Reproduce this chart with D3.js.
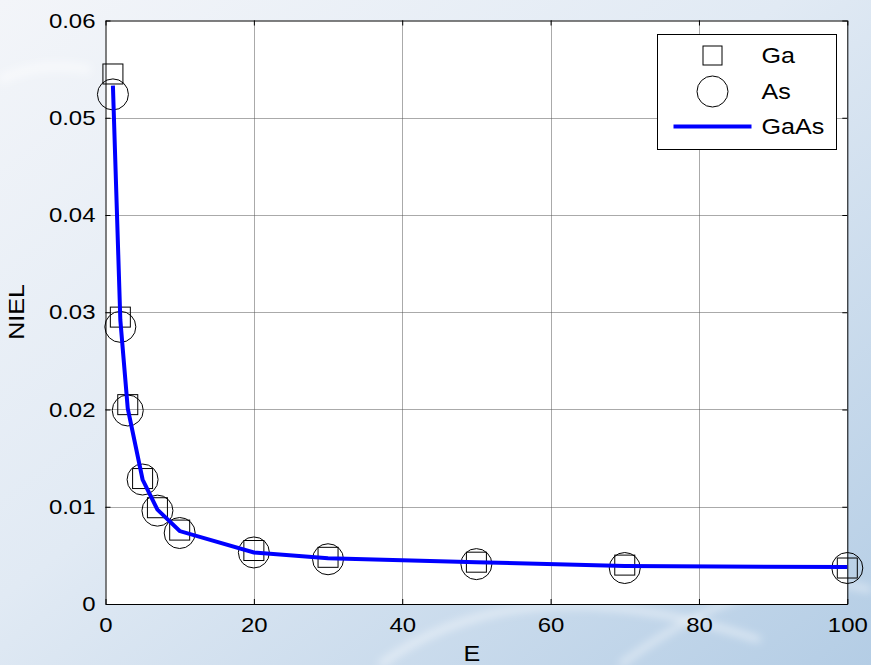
<!DOCTYPE html>
<html>
<head>
<meta charset="utf-8">
<title>NIEL GaAs</title>
<style>
  html, body { margin: 0; padding: 0; }
  text { font-family: "Liberation Sans", Arial, sans-serif; }
</style>
</head>
<body>
<script src="https://d3js.org/d3.v7.min.js"></script>
<script>
// data
var energy = [1, 2, 3, 5, 7, 10, 20, 30, 50, 70, 100];
var gaNiel = [0.0545, 0.0295, 0.0205, 0.0129, 0.0099, 0.0076, 0.0055, 0.0048, 0.0043, 0.0040, 0.0037];
var asNiel = [0.0524, 0.0285, 0.0199, 0.0128, 0.0096, 0.0073, 0.0053, 0.0046, 0.0041, 0.0037, 0.0037];
var gaasNiel = [0.0533, 0.0292, 0.0201, 0.0128, 0.0097, 0.0075, 0.0053, 0.0047, 0.0043, 0.0039, 0.0038];
var xTicks = [0, 20, 40, 60, 80, 100];
var yTicks = [0, 0.01, 0.02, 0.03, 0.04, 0.05, 0.06];
var legendLabels = ["Ga", "As", "GaAs"];

var W = 871, H = 665;
var plotL = 105.5, plotR = 847.3, plotT = 20.5, plotB = 604;

var svg = d3.select("body").append("svg")
    .attr("width", W)
    .attr("height", H);

// slide-like background
var defs = svg.append("defs");
var bg = defs.append("linearGradient").attr("id", "bg")
    .attr("x1", 0).attr("y1", 0).attr("x2", 1).attr("y2", 1);
bg.append("stop").attr("offset", "0%").attr("stop-color", "#f3f5f9");
bg.append("stop").attr("offset", "45%").attr("stop-color", "#e1eaf4");
bg.append("stop").attr("offset", "100%").attr("stop-color", "#b4cde5");
defs.append("filter").attr("id", "blur").append("feGaussianBlur").attr("stdDeviation", 4);

svg.append("rect").attr("width", W).attr("height", H).attr("fill", "url(#bg)");
var streaks = svg.append("g").attr("filter", "url(#blur)")
    .attr("fill", "none").attr("stroke", "#fff").attr("stroke-opacity", 0.55);
streaks.append("path").attr("d", "M380,665 Q520,560 760,640").attr("stroke-width", 6);
streaks.append("path").attr("d", "M620,665 Q760,560 871,590").attr("stroke-width", 5);
streaks.append("path").attr("d", "M0,80 Q40,60 90,70").attr("stroke-width", 8);

var x = d3.scaleLinear().domain([0, 100]).range([plotL, plotR]);
var y = d3.scaleLinear().domain([0, 0.06]).range([plotB, plotT]);

// plot area
svg.append("rect")
    .attr("x", plotL).attr("y", plotT)
    .attr("width", plotR - plotL).attr("height", plotB - plotT)
    .attr("fill", "#fff");

// grid, dotted
var grid = svg.append("g")
    .attr("stroke", "#555")
    .attr("stroke-width", 1)
    .attr("stroke-dasharray", "1,1");
grid.selectAll(".gx").data(xTicks.slice(1, -1)).enter().append("line")
    .attr("x1", function(d){ return Math.round(x(d)) + 0.5; })
    .attr("x2", function(d){ return Math.round(x(d)) + 0.5; })
    .attr("y1", plotT).attr("y2", plotB);
grid.selectAll(".gy").data(yTicks.slice(1, -1)).enter().append("line")
    .attr("y1", function(d){ return Math.round(y(d)) + 0.5; })
    .attr("y2", function(d){ return Math.round(y(d)) + 0.5; })
    .attr("x1", plotL).attr("x2", plotR);

// axes, MATLAB style ticks pointing inward
var fmtY = function(d){ return d === 0 ? "0" : d3.format(".2f")(d); };

svg.append("g").attr("class", "ax")
    .attr("transform", "translate(0," + plotB + ")")
    .call(d3.axisBottom(x).tickValues(xTicks).tickSizeInner(-5).tickSizeOuter(0).tickPadding(13));
svg.append("g").attr("class", "ax")
    .attr("transform", "translate(" + plotL + ",0)")
    .call(d3.axisLeft(y).tickValues(yTicks).tickFormat(fmtY).tickSizeInner(-5).tickSizeOuter(0).tickPadding(10));
svg.append("g").attr("class", "ax")
    .attr("transform", "translate(0," + plotT + ")")
    .call(d3.axisTop(x).tickValues(xTicks).tickFormat("").tickSizeInner(-5).tickSizeOuter(0));
svg.append("g").attr("class", "ax")
    .attr("transform", "translate(" + plotR + ",0)")
    .call(d3.axisRight(y).tickValues(yTicks).tickFormat("").tickSizeInner(-5).tickSizeOuter(0));

svg.selectAll(".ax path, .ax line").attr("stroke", "#000").attr("stroke-width", 1);
svg.selectAll(".ax text")
    .attr("font-family", "Liberation Sans, Arial, sans-serif")
    .attr("font-size", 21)
    .attr("fill", "#000");

// markers
var pts = energy.map(function(e, i){ return {e: e, ga: gaNiel[i], as: asNiel[i], gaas: gaasNiel[i]}; });
var sq = 20, rc = 15.5;

svg.append("g").selectAll("rect").data(pts).enter().append("rect")
    .attr("x", function(d){ return x(d.e) - sq / 2; })
    .attr("y", function(d){ return y(d.ga) - sq / 2; })
    .attr("width", sq).attr("height", sq)
    .attr("fill", "none").attr("stroke", "#000").attr("stroke-width", 1);

svg.append("g").selectAll("circle").data(pts).enter().append("circle")
    .attr("cx", function(d){ return x(d.e); })
    .attr("cy", function(d){ return y(d.as); })
    .attr("r", rc)
    .attr("fill", "none").attr("stroke", "#000").attr("stroke-width", 1);

var line = d3.line()
    .x(function(d){ return x(d.e); })
    .y(function(d){ return y(d.gaas); });
svg.append("path").datum(pts)
    .attr("d", line)
    .attr("fill", "none")
    .attr("stroke", "#0000ff")
    .attr("stroke-width", 4);

// legend
var lg = svg.append("g").attr("transform", "translate(657.5,34.5)");
lg.append("rect").attr("width", 179).attr("height", 115)
    .attr("fill", "#fff").attr("stroke", "#000").attr("stroke-width", 1);
var rowY = [21, 57, 92];
lg.append("rect").attr("x", 55 - 9.5).attr("y", rowY[0] - 9.5).attr("width", 19).attr("height", 19)
    .attr("fill", "none").attr("stroke", "#000");
lg.append("circle").attr("cx", 55).attr("cy", rowY[1]).attr("r", 15.5)
    .attr("fill", "none").attr("stroke", "#000");
lg.append("line").attr("x1", 16).attr("x2", 94).attr("y1", rowY[2]).attr("y2", rowY[2])
    .attr("stroke", "#0000ff").attr("stroke-width", 4);
lg.selectAll(".lt").data(legendLabels).enter().append("text")
    .attr("class", "lt")
    .attr("x", 104)
    .attr("y", function(d, i){ return rowY[i]; })
    .attr("dy", "0.36em")
    .attr("font-size", 22)
    .text(function(d){ return d; });

// axis titles
svg.append("text")
    .attr("x", 472).attr("y", 661)
    .attr("text-anchor", "middle")
    .attr("font-size", 22)
    .text("E");
svg.append("text")
    .attr("transform", "translate(24,312) rotate(-90)")
    .attr("text-anchor", "middle")
    .attr("font-size", 22)
    .text("NIEL");

// the original figure was stretched sideways; widen the lettering to match
svg.selectAll("text").each(function(){
    var t = d3.select(this);
    var len = this.getComputedTextLength();
    if (len > 0) t.attr("textLength", len * 1.14).attr("lengthAdjust", "spacingAndGlyphs");
});
</script>
</body>
</html>
